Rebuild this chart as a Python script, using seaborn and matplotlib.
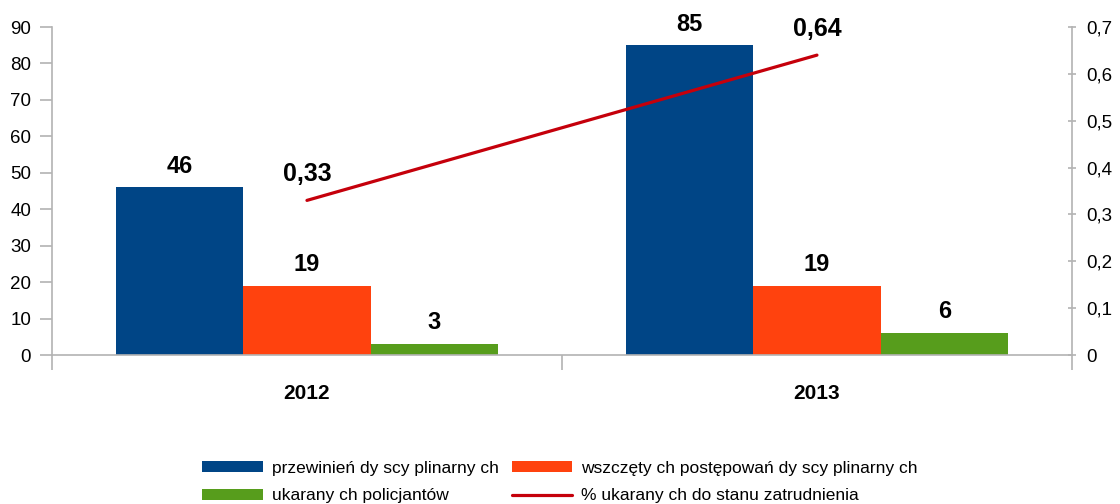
import matplotlib
matplotlib.use('Agg')
import matplotlib.pyplot as plt
import pandas as pd
import seaborn as sns

# Data
years = ['2012', '2013']
series = [
    'przewinień dy scy plinarny ch',
    'wszczęty ch postępowań dy scy plinarny ch',
    'ukarany ch policjantów',
]
przewinienia = [46, 85]
wszczete = [19, 19]
ukarani = [3, 6]
pct_label = '% ukarany ch do stanu zatrudnienia'
pct_values = [0.33, 0.64]
pct_text = ['0,33', '0,64']

colors = ['#004586', '#ff420e', '#579d1c']
line_color = '#c5000b'
axis_gray = '#b3b3b3'

df = pd.DataFrame({
    'year': years * 3,
    'series': [s for s in series for _ in years],
    'value': przewinienia + wszczete + ukarani,
})

sns.set_theme(style='white')
plt.rcParams['font.family'] = ['Liberation Sans', 'DejaVu Sans']
plt.rcParams['text.color'] = 'black'
plt.rcParams['xtick.color'] = 'black'
plt.rcParams['ytick.color'] = 'black'

fig = plt.figure(figsize=(11.2, 5.04), dpi=100)
ax = fig.add_axes([0.0464, 0.2956, 0.9107, 0.6508])

sns.barplot(data=df, x='year', y='value', hue='series', order=years,
            hue_order=series, palette=colors, width=0.75, saturation=1,
            edgecolor='none', linewidth=0, ax=ax, legend=True)

for cont in ax.containers:
    ax.bar_label(cont, fmt='%d', padding=7, fontsize=17, fontweight='bold')

ax.set_xlim(-0.5, 1.5)
ax.set_ylim(0, 90)
ax.set_yticks(range(0, 91, 10))
ax.set_xlabel('')
ax.set_ylabel('')

# secondary axis with the percentage line
ax2 = ax.twinx()
sns.lineplot(x=[0, 1], y=pct_values, color=line_color, linewidth=2.3, ax=ax2,
             label=pct_label, legend=False)
ax2.set_ylim(0, 0.7)
ticks2 = [i / 10 for i in range(8)]
ax2.set_yticks(ticks2)
ax2.set_yticklabels(['0'] + [f'0,{i}' for i in range(1, 8)])
for x, y, t in zip([0, 1], pct_values, pct_text):
    ax2.annotate(t, (x, y), xytext=(0, 10), textcoords='offset points',
                 ha='center', va='bottom', fontsize=18, fontweight='bold')

# axes styling
for a in (ax, ax2):
    a.spines['top'].set_visible(False)
    for side in ('left', 'right', 'bottom'):
        a.spines[side].set_color(axis_gray)
        a.spines[side].set_linewidth(1.2)
ax.spines['right'].set_visible(False)
ax2.spines['left'].set_visible(False)
ax2.spines['bottom'].set_visible(False)

ax.tick_params(axis='y', direction='out', length=9, width=1.2, color=axis_gray,
               labelsize=13.5, pad=6, left=True, labelcolor='black')
ax2.tick_params(axis='y', direction='inout', length=6, width=1.2, color=axis_gray,
                labelsize=13.5, pad=7, right=True, labelcolor='black')
ax.set_xticks([0, 1])
ax.set_xticklabels(years, fontsize=15, fontweight='bold')
ax.tick_params(axis='x', length=0, pad=21, labelcolor='black')
ax.set_xticks([-0.5, 0.5, 1.5], minor=True)
ax.tick_params(axis='x', which='minor', direction='out', length=11, width=1.2,
               color=axis_gray, bottom=True)

# legend (row-wise order like the reference)
h1, l1 = ax.get_legend_handles_labels()
h2, l2 = ax2.get_legend_handles_labels()
ax.get_legend().remove()
handles = [h1[0], h1[2], h1[1], h2[0]]
labels = [l1[0], l1[2], l1[1], l2[0]]
fig.legend(handles, labels, ncol=2, loc='lower center',
           bbox_to_anchor=(0.5, -0.03), frameon=False, fontsize=12.5,
           handlelength=3.5, handleheight=0.58, columnspacing=0.75,
           labelspacing=0.72, handletextpad=0.52)

fig.savefig('out.png', dpi=100)
